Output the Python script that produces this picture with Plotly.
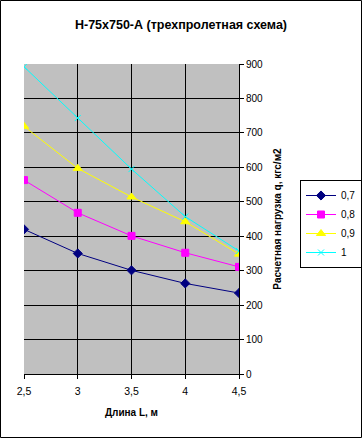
import plotly.graph_objects as go

lengths = [2.5, 3.0, 3.5, 4.0, 4.5]
x_tick_labels = ["2,5", "3", "3,5", "4", "4,5"]
series_names = ["0,7", "0,8", "0,9", "1"]
s07 = [420, 350, 301, 263, 235]
s08 = [563, 468, 401, 352, 311]
s09 = [719, 597, 514, 442, 348]
s10 = [892, 743, 595, 457, 357]
y_ticks = [0, 100, 200, 300, 400, 500, 600, 700, 800, 900]

series = [s07, s08, s09, s10]
colors = ["#000080", "#FF00FF", "#FFFF00", "#00FFFF"]
symbols = ["diamond", "square", "triangle-up", "x-thin"]
sizes = [7, 7, 8, 6]

fig = go.Figure()
for name, vals, c, sym, sz in zip(series_names, series, colors, symbols, sizes):
    fig.add_trace(go.Scatter(
        x=lengths, y=vals, name=name, mode="lines+markers",
        line=dict(color=c, width=1),
        marker=dict(symbol=sym, size=sz, color=c, line=dict(color=c, width=1)),
    ))

FONT = "Liberation Sans, Arial, sans-serif"
L, R, T, B = 24, 123, 64, 64
pw = 362 - L - R
ph = 438 - T - B

fig.update_layout(
    width=362, height=438,
    margin=dict(l=L, r=R, t=T, b=B, pad=0, autoexpand=False),
    paper_bgcolor="white", plot_bgcolor="#C0C0C0",
    font=dict(family=FONT, size=10, color="black"),
    title=dict(text="<b>Н-75х750-А (трехпролетная схема)</b>", x=0.5, xanchor="center",
               xref="container", y=1 - 25 / 438, yanchor="middle", yref="container",
               font=dict(size=12.5, family=FONT)),
    showlegend=True,
    legend=dict(x=(300 - L) / pw, xanchor="left", y=(438 - B - 180) / ph, yanchor="top",
                bordercolor="black", borderwidth=1, bgcolor="white",
                font=dict(size=10, family=FONT), itemwidth=30, tracegroupgap=0),
    xaxis=dict(range=[2.5, 4.5], tickvals=lengths, ticktext=x_tick_labels,
               showgrid=True, gridcolor="black", gridwidth=1,
               showline=True, linecolor="black", linewidth=1,
               ticks="outside", ticklen=4, tickcolor="black", ticklabelstandoff=3,
               zeroline=False, fixedrange=True, automargin=False,
               title=dict(text="<b>Длина L, м</b>", font=dict(size=10, family=FONT), standoff=13),
               tickfont=dict(size=10.5)),
    yaxis=dict(range=[0, 900], tickvals=y_ticks, side="right",
               showgrid=True, gridcolor="black", gridwidth=1,
               showline=True, linecolor="black", linewidth=1,
               ticks="outside", ticklen=4, tickcolor="black",
               zeroline=False, fixedrange=True, automargin=False,
               title=dict(text="<b>Расчетная нагрузка q, кгс/м2</b>", font=dict(size=10, family=FONT), standoff=11),
               tickfont=dict(size=10)),
    shapes=[dict(type="rect", xref="paper", yref="paper",
                 x0=(0.5 - L) / pw, x1=(361.5 - L) / pw,
                 y0=(0.5 - B) / ph, y1=(437.5 - B) / ph,
                 line=dict(color="black", width=1), fillcolor="rgba(0,0,0,0)", layer="above")],
)

fig.write_html("out.html", config={"displayModeBar": False},
               post_script="document.body.style.margin='0';document.body.style.overflow='hidden';")
